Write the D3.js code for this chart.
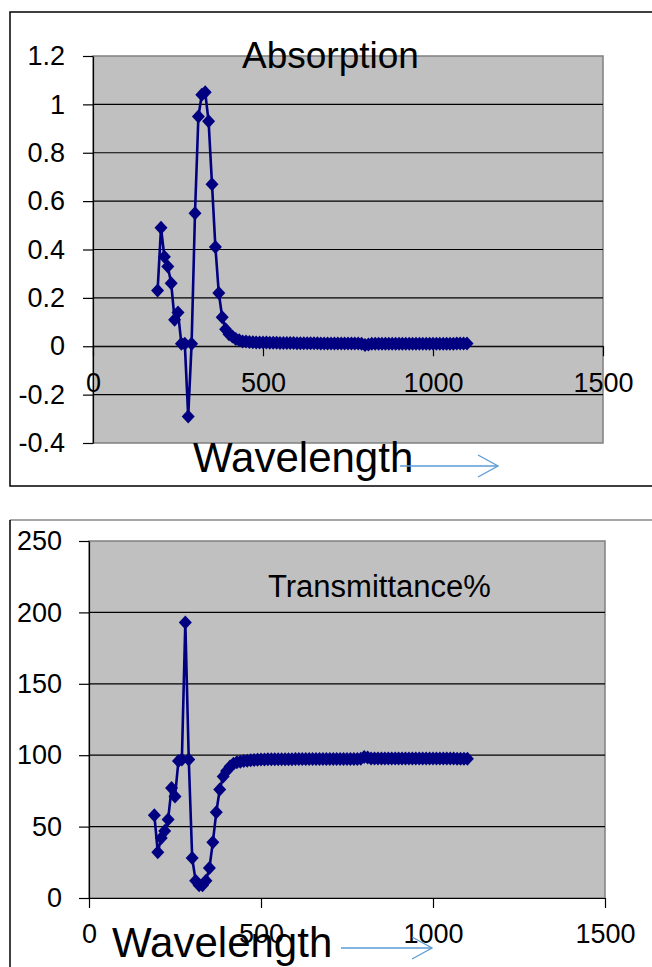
<!DOCTYPE html>
<html>
<head>
<meta charset="utf-8">
<script src="https://cdn.jsdelivr.net/npm/d3@7"></script>
<style>
  body { margin: 0; background: #fff; }
  text { font-family: "Liberation Sans", Arial, sans-serif; fill: #000; }
</style>
</head>
<body>
<div id="chart"></div>
<script>
/**
 * DATA
 * */
const wavelengths = [
  190, 200, 210, 220, 230, 240, 250, 260, 270, 280, 290, 300, 310, 320, 330, 340, 350, 360, 370, 380, 390,
  400, 410, 420, 430, 440, 450, 460, 470, 480, 490,
  500, 510, 520, 530, 540, 550, 560, 570, 580, 590,
  600, 610, 620, 630, 640, 650, 660, 670, 680, 690,
  700, 710, 720, 730, 740, 750, 760, 770, 780, 790,
  800, 810, 820, 830, 840, 850, 860, 870, 880, 890,
  900, 910, 920, 930, 940, 950, 960, 970, 980, 990,
  1000, 1010, 1020, 1030, 1040, 1050, 1060, 1070, 1080, 1090,
  1100
];

const absorption = [
  0.23, 0.49, 0.37, 0.33, 0.26, 0.11, 0.14, 0.01, 0.01, -0.29, 0.01, 0.55, 0.95, 1.04, 1.05, 0.93, 0.67, 0.41, 0.22, 0.12, 0.07,
  0.05, 0.04, 0.03, 0.025, 0.02, 0.02, 0.018, 0.017, 0.016, 0.015,
  0.015, 0.015, 0.014, 0.014, 0.014, 0.013, 0.013, 0.013, 0.013, 0.013,
  0.012, 0.012, 0.012, 0.012, 0.012, 0.012, 0.012, 0.011, 0.011, 0.011,
  0.011, 0.011, 0.011, 0.011, 0.011, 0.011, 0.011, 0.011, 0.011, 0.010,
  0.005, 0.007, 0.010, 0.010, 0.010, 0.010, 0.010, 0.010, 0.010, 0.010,
  0.010, 0.010, 0.010, 0.010, 0.010, 0.010, 0.010, 0.010, 0.010, 0.010,
  0.010, 0.010, 0.010, 0.010, 0.010, 0.010, 0.010, 0.011, 0.011, 0.011,
  0.011
];

const transmittance = [
  58, 32, 42, 47, 55, 77, 71, 96, 97, 193, 97, 28, 12, 9, 9, 12, 21, 39, 60, 76, 85,
  89, 92, 94, 95, 95.5, 96, 96.2, 96.5, 96.6, 96.8,
  97, 97, 97.1, 97.1, 97.1, 97.2, 97.2, 97.2, 97.2, 97.2,
  97.3, 97.3, 97.3, 97.3, 97.3, 97.3, 97.3, 97.4, 97.4, 97.4,
  97.4, 97.4, 97.4, 97.4, 97.4, 97.4, 97.4, 97.4, 97.4, 97.6,
  98.8, 98.4, 97.7, 97.7, 97.7, 97.7, 97.7, 97.7, 97.7, 97.7,
  97.7, 97.7, 97.7, 97.7, 97.7, 97.7, 97.7, 97.7, 97.7, 97.7,
  97.7, 97.7, 97.7, 97.7, 97.7, 97.7, 97.7, 97.5, 97.5, 97.5,
  97.5
];

const xTicks = [0, 500, 1000, 1500];
const absTicks = [1.2, 1, 0.8, 0.6, 0.4, 0.2, 0, -0.2, -0.4];
const transTicks = [250, 200, 150, 100, 50, 0];

/**
 * CONSTANTS
 * */
const width = 652, height = 967;
const navy = "#000080";
const arrowBlue = "#5b9bd5";

const svg = d3.select("#chart")
  .append("svg")
  .attr("width", width)
  .attr("height", height);

// outer frames (the picture is a crop of two excel charts)
svg.append("rect")
  .attr("x", 10).attr("y", 12)
  .attr("width", 660).attr("height", 474)
  .attr("fill", "none").attr("stroke", "#000").attr("stroke-width", 1.5);

svg.append("line")
  .attr("x1", 10).attr("x2", width).attr("y1", 520).attr("y2", 520)
  .attr("stroke", "#888").attr("stroke-width", 1.5);
svg.append("line")
  .attr("x1", 10).attr("x2", 10).attr("y1", 520).attr("y2", height + 5)
  .attr("stroke", "#000").attr("stroke-width", 1.5);

// diamond marker, a bit bigger than d3's default
const diamond = "M0,-7L6.5,0L0,7L-6.5,0Z";

function drawChart(cfg) {
  const x = d3.scaleLinear().domain([0, 1500]).range([cfg.left, cfg.right]);
  const y = d3.scaleLinear().domain(cfg.yDomain).range([cfg.bottom, cfg.top]);
  const g = svg.append("g");

  // plot area
  g.append("rect")
    .attr("x", cfg.left).attr("y", cfg.top)
    .attr("width", cfg.right - cfg.left).attr("height", cfg.bottom - cfg.top)
    .attr("fill", "#c0c0c0").attr("stroke", "#808080").attr("stroke-width", 1.5);

  // gridlines
  g.append("g")
    .selectAll("line")
    .data(cfg.yTicks.filter(d => d !== cfg.yDomain[0] && d !== cfg.yDomain[1]))
    .join("line")
    .attr("x1", cfg.left).attr("x2", cfg.right)
    .attr("y1", d => y(d)).attr("y2", d => y(d))
    .attr("stroke", "#000").attr("stroke-width", 1.2);

  // y axis
  const yAxis = g.append("g")
    .attr("transform", `translate(${cfg.left},0)`)
    .call(d3.axisLeft(y).tickValues(cfg.yTicks).tickFormat(d => String(d))
      .tickSize(10).tickSizeOuter(0).tickPadding(cfg.yPad));
  yAxis.selectAll("text").style("font-size", "27px").attr("fill", "#000");
  yAxis.selectAll("line, path").attr("stroke", "#000").attr("stroke-width", 1.2);

  // x axis at y = 0
  const xAxis = g.append("g")
    .attr("transform", `translate(0,${y(0)})`)
    .call(d3.axisBottom(x).tickValues(xTicks).tickFormat(d => String(d))
      .tickSize(10).tickSizeOuter(0).tickPadding(cfg.xPad));
  xAxis.selectAll("text").style("font-size", "27px").attr("fill", "#000");
  xAxis.selectAll("line, path").attr("stroke", "#000").attr("stroke-width", 1.2);

  // series
  const pts = wavelengths.map((w, i) => [w, cfg.values[i]]);
  g.append("path")
    .datum(pts)
    .attr("fill", "none")
    .attr("stroke", navy)
    .attr("stroke-width", 2.6)
    .attr("stroke-linejoin", "round")
    .attr("d", d3.line().x(d => x(d[0])).y(d => y(d[1])));

  g.append("g")
    .selectAll("path")
    .data(pts)
    .join("path")
    .attr("d", diamond)
    .attr("transform", d => `translate(${x(d[0])},${y(d[1])})`)
    .attr("fill", navy);

  // title
  svg.append("text")
    .attr("x", cfg.titleX).attr("y", cfg.titleY)
    .style("font-size", cfg.titleSize + "px")
    .text(cfg.title);

  // axis title + arrow
  svg.append("text")
    .attr("x", cfg.labelX).attr("y", cfg.labelY)
    .style("font-size", "42px")
    .text("Wavelength");

  const a = cfg.arrow;
  svg.append("line")
    .attr("x1", a[0]).attr("x2", a[1]).attr("y1", a[2]).attr("y2", a[2])
    .attr("stroke", arrowBlue).attr("stroke-width", 1.3);
  svg.append("path")
    .attr("d", `M${a[1] - 20},${a[2] - 11}L${a[1]},${a[2]}L${a[1] - 20},${a[2] + 11}`)
    .attr("fill", "none").attr("stroke", arrowBlue).attr("stroke-width", 1.3);
}

drawChart({
  left: 93, right: 603, top: 56, bottom: 443,
  yDomain: [-0.4, 1.2], yTicks: absTicks, values: absorption,
  yPad: 18, xPad: 17,
  title: "Absorption", titleX: 242, titleY: 68, titleSize: 37,
  labelX: 193, labelY: 472,
  arrow: [400, 498, 466]
});

drawChart({
  left: 89, right: 605, top: 541, bottom: 898,
  yDomain: [0, 250], yTicks: transTicks, values: transmittance,
  yPad: 17, xPad: 16,
  title: "Transmittance%", titleX: 268, titleY: 597, titleSize: 31,
  labelX: 112, labelY: 957,
  arrow: [341, 432, 948]
});
</script>
</body>
</html>
